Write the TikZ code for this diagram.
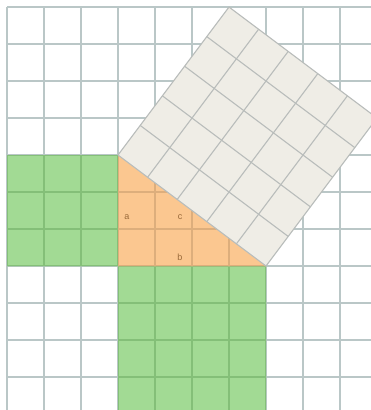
\documentclass[tikz,border=0pt]{standalone}
\usepackage{fontspec}
\setmainfont{Liberation Sans}
\definecolor{gridc}{HTML}{A9B9B9}
\definecolor{greenf}{HTML}{A2DA94}
\definecolor{greenl}{HTML}{84BF78}
\definecolor{orangef}{HTML}{FBC790}
\definecolor{orangel}{HTML}{DDAE7C}
\definecolor{greyf}{HTML}{EFEDE6}
\definecolor{rotgrid}{HTML}{B9BDBB}
\definecolor{labc}{HTML}{9A6A3A}
\tikzset{
  gridline/.style={line width=1.3pt},
  rotline/.style={draw=rotgrid, line width=1.1pt},
  lab/.style={font=\fontsize{9}{10}\selectfont, text=labc, inner sep=0pt}
}
\newcommand{\mygrid}[1]{%
  \foreach \k in {0,...,9} {
    \draw[gridline, draw=#1] ({7+37*\k},7) -- ({7+37*\k},410);
  }
  \foreach \k in {0,...,10} {
    \draw[gridline, draw=#1] (7,{7+37*\k}) -- (371,{7+37*\k});
  }
}
\begin{document}
\begin{tikzpicture}[x=1pt,y=-1pt]
\useasboundingbox (0,0) rectangle (371,410);
\fill[white] (0,0) rectangle (371,410);
\begin{scope}
\clip (0,0) rectangle (371,410);
\coordinate (A) at (118,155);
\coordinate (C) at (118,266);
\coordinate (B) at (266,266);
% plain grid
\mygrid{gridc!80}
% squares on legs
\begin{scope}
\clip (7,155) rectangle (118,266) (118,266) rectangle (266,414);
\fill[greenf] (0,0) rectangle (371,414);
\mygrid{greenl}
\end{scope}
% triangle
\begin{scope}
\clip (A) -- (C) -- (B) -- cycle;
\fill[orangef] (0,0) rectangle (371,414);
\mygrid{orangel}
\end{scope}
% hypotenuse square
\coordinate (D) at (377,118);
\coordinate (E) at (229,7);
\fill[greyf] (A) -- (B) -- (D) -- (E) -- cycle;
\foreach \s in {0,...,5} {
  \draw[rotline] ({118+29.6*\s},{155+22.2*\s}) -- ({118+29.6*\s+111},{155+22.2*\s-148});
  \draw[rotline] ({118+22.2*\s},{155-29.6*\s}) -- ({118+22.2*\s+148},{155-29.6*\s+111});
}
\end{scope}
\node[lab] (la) at (127,217) {a};
\node[lab] (lc) at (180,217) {c};
\node[lab] (lb) at (180,257) {b};
\end{tikzpicture}
\end{document}
